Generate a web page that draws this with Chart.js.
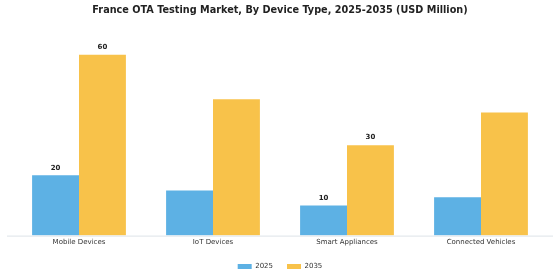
<!DOCTYPE html>
<html>
<head>
<meta charset="utf-8">
<script src="https://cdn.jsdelivr.net/npm/chart.js@4"></script>
<style>
  body { margin: 0; background: #fff; }
  #wrap { width: 560px; height: 280px; }
</style>
</head>
<body>
<div id="wrap"><canvas id="chart"></canvas></div>
<script>
// data
const categories = ["Mobile Devices", "IoT Devices", "Smart Appliances", "Connected Vehicles"];
const values2025 = [20, 15, 10, 12.7];
const values2035 = [60, 45.2, 30, 40.8];
// only these categories carry a value label in the original
const labelledIdx = [0, 2];

const ctx = document.getElementById("chart").getContext("2d");

// small bold numbers above the bars + baseline that runs a bit past the plot
const valueLabels = {
  id: "valueLabels",
  afterDatasetsDraw(chart) {
    const c = chart.ctx;
    const area = chart.chartArea;
    c.save();
    c.strokeStyle = "#dde3e8";
    c.lineWidth = 1;
    c.beginPath();
    c.moveTo(area.left - 5, area.bottom + 0.5);
    c.lineTo(area.right + 5, area.bottom + 0.5);
    c.stroke();

    c.font = "bold 7px 'DejaVu Sans'";
    c.fillStyle = "#222";
    c.textAlign = "center";
    c.textBaseline = "bottom";
    chart.data.datasets.forEach((ds, i) => {
      chart.getDatasetMeta(i).data.forEach((bar, j) => {
        if (!labelledIdx.includes(j)) return;
        c.fillText(String(ds.data[j]), bar.x, bar.y - 4);
      });
    });
    c.restore();
  }
};

new Chart(ctx, {
  type: "bar",
  data: {
    labels: categories,
    datasets: [
      { label: "2025", data: values2025, backgroundColor: "#5DB1E4", borderWidth: 0 },
      { label: "2035", data: values2035, backgroundColor: "#F8C24A", borderWidth: 0 }
    ]
  },
  options: {
    responsive: true,
    maintainAspectRatio: false,
    animation: false,
    layout: { padding: { left: 12, right: 12, top: 0, bottom: 0 } },
    datasets: { bar: { barPercentage: 1.0, categoryPercentage: 0.7 } },
    scales: {
      x: {
        grid: { display: false, drawTicks: false, tickLength: 0 },
        border: { display: false },
        ticks: { color: "#333", font: { family: "DejaVu Sans", size: 7 }, padding: 2.5 }
      },
      y: {
        display: false,
        min: 0,
        max: 64
      }
    },
    plugins: {
      title: {
        display: true,
        text: "France OTA Testing Market, By Device Type, 2025-2035 (USD Million)",
        color: "#222",
        font: { family: "DejaVu Sans", size: 9.7, weight: "bold" },
        padding: { top: 5, bottom: 26 }
      },
      legend: {
        position: "bottom",
        labels: {
          boxWidth: 14,
          boxHeight: 5,
          color: "#333",
          font: { family: "DejaVu Sans", size: 7 },
          padding: 14
        }
      },
      tooltip: { enabled: false }
    }
  },
  plugins: [valueLabels]
});
</script>
</body>
</html>
